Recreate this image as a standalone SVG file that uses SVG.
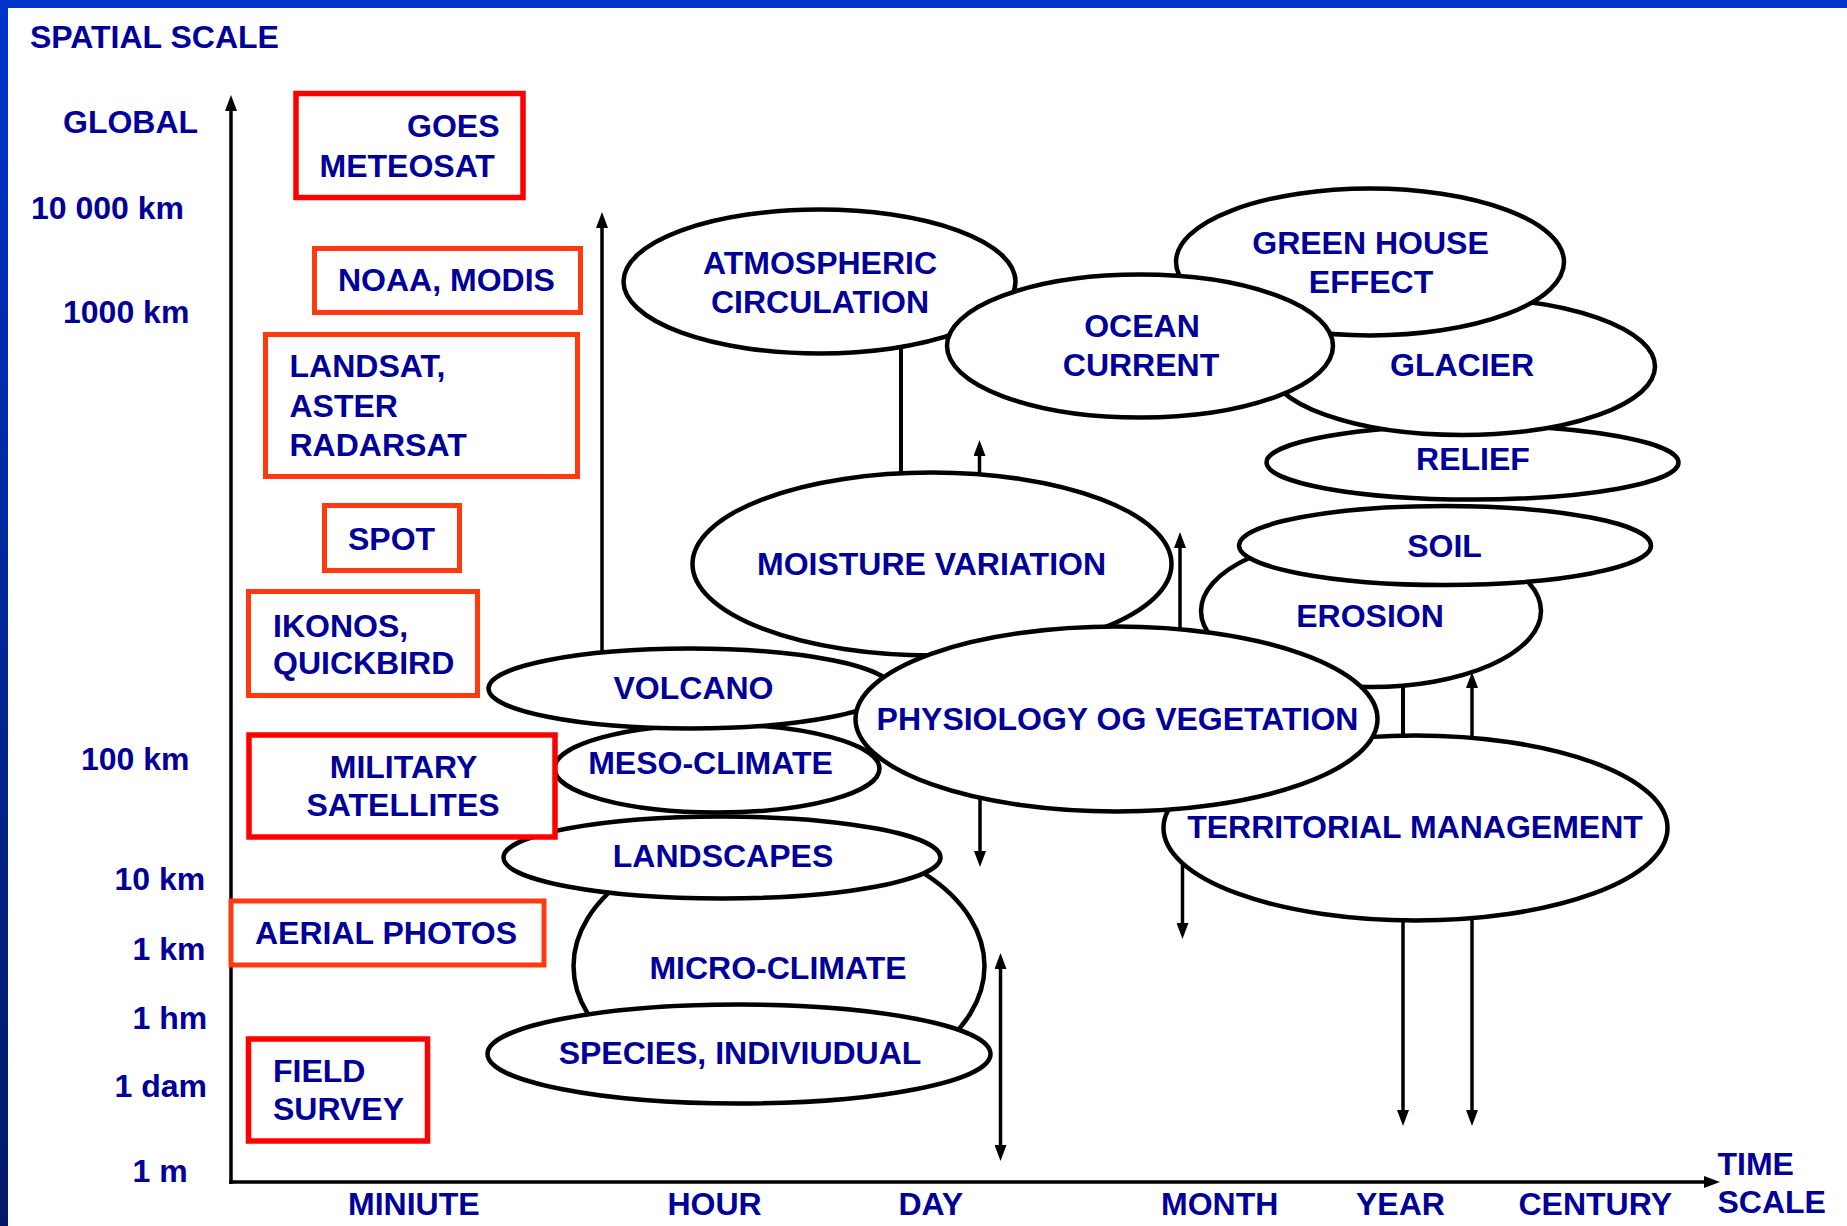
<svg xmlns="http://www.w3.org/2000/svg" width="1847" height="1226" viewBox="0 0 1847 1226">
<defs>
<linearGradient id="lb" x1="0" y1="0" x2="0" y2="1">
<stop offset="0" stop-color="#0033cc"/>
<stop offset="1" stop-color="#001a66"/>
</linearGradient>
<marker id="ah" markerUnits="userSpaceOnUse" viewBox="0 0 16 12" markerWidth="16" markerHeight="12" refX="4" refY="6" orient="auto-start-reverse">
<path d="M0,0 L16,6 L0,12 z" fill="#000"/>
</marker>
<style>
.t{font-family:"Liberation Sans",Arial,sans-serif;font-weight:bold;font-size:32px;fill:#000099}
.c{text-anchor:middle}
.e{fill:#fff;stroke:#000;stroke-width:4.5}
.br{fill:#fff;stroke:#ff0000;stroke-width:5.5}
.bo{fill:#fff;stroke:#ff3a10;stroke-width:5}
.ln{stroke:#000;stroke-width:4;fill:none}
.la{stroke:#000;stroke-width:3.5;fill:none;marker-end:url(#ah)}
.ld{stroke:#000;stroke-width:3.5;fill:none;marker-start:url(#ah);marker-end:url(#ah)}
</style>
</defs>
<rect x="0" y="0" width="1847" height="1226" fill="#fff"/>
<rect x="0" y="0" width="1847" height="8" fill="#0033cc"/>
<rect x="0" y="0" width="8" height="1226" fill="url(#lb)"/>

<g id="connectors">
<line class="la" x1="231" y1="1184" x2="231" y2="107"/>
<line class="la" x1="229" y1="1182" x2="1708" y2="1182"/>
<line class="la" x1="602" y1="660" x2="602" y2="224"/>
<line class="ln" x1="901" y1="340" x2="901" y2="480"/>
<line class="la" x1="979.5" y1="480" x2="979.5" y2="452"/>
<line class="la" x1="1180" y1="640" x2="1180" y2="544"/>
<line class="la" x1="980" y1="790" x2="980" y2="855"/>
<line class="ld" x1="1000.5" y1="965" x2="1000.5" y2="1149"/>
<line class="ln" x1="1403" y1="680" x2="1403" y2="745"/>
<line class="la" x1="1472" y1="745" x2="1472" y2="684"/>
<line class="la" x1="1403" y1="915" x2="1403" y2="1114"/>
<line class="la" x1="1472" y1="915" x2="1472" y2="1114"/>
<line class="la" x1="1182.5" y1="855" x2="1182.5" y2="927"/>
</g>

<g id="atmospheric"><ellipse class="e" cx="819.5" cy="281.5" rx="196" ry="72"/><text class="t c" x="820" y="274">ATMOSPHERIC</text><text class="t c" x="820" y="313">CIRCULATION</text></g>
<g id="relief"><ellipse class="e" cx="1472.5" cy="462.5" rx="206" ry="37"/><text class="t c" x="1473" y="470">RELIEF</text></g>
<g id="glacier"><ellipse class="e" cx="1462" cy="366.5" rx="193" ry="68.5"/><text class="t c" x="1462" y="376">GLACIER</text></g>
<g id="greenhouse"><ellipse class="e" cx="1370" cy="262" rx="194" ry="73.5"/><text class="t c" x="1370.5" y="254">GREEN HOUSE</text><text class="t c" x="1371" y="293">EFFECT</text></g>
<g id="ocean"><ellipse class="e" cx="1140" cy="346" rx="193" ry="71.5"/><text class="t c" x="1142" y="337">OCEAN</text><text class="t c" x="1141" y="376">CURRENT</text></g>
<g id="erosion"><ellipse class="e" cx="1371" cy="611" rx="170" ry="76"/><text class="t c" x="1370" y="627">EROSION</text></g>
<g id="soil"><ellipse class="e" cx="1445" cy="545.5" rx="206" ry="39.5"/><text class="t c" x="1444.5" y="557">SOIL</text></g>
<g id="territorial"><ellipse class="e" cx="1415.5" cy="828" rx="252" ry="92.5"/><text class="t c" x="1415" y="838">TERRITORIAL MANAGEMENT</text></g>
<g id="moisture"><ellipse class="e" cx="932" cy="564" rx="239.5" ry="91.5"/><text class="t c" x="931.5" y="575">MOISTURE VARIATION</text></g>
<g id="meso"><ellipse class="e" cx="717" cy="768.5" rx="162.5" ry="44"/><text class="t c" x="710.5" y="774">MESO-CLIMATE</text></g>
<g id="volcano"><ellipse class="e" cx="690" cy="688.5" rx="201.5" ry="40"/><text class="t c" x="693.5" y="699">VOLCANO</text></g>
<g id="physiology"><ellipse class="e" cx="1116.5" cy="719" rx="261" ry="92.5"/><text class="t c" x="1117.5" y="730">PHYSIOLOGY OG VEGETATION</text></g>
<g id="micro"><ellipse class="e" cx="779" cy="966" rx="205.5" ry="130.5"/><text class="t c" x="778" y="979">MICRO-CLIMATE</text></g>
<g id="landscapes"><ellipse class="e" cx="722" cy="857.5" rx="218.5" ry="41"/><text class="t c" x="723" y="867">LANDSCAPES</text></g>
<g id="species"><ellipse class="e" cx="739" cy="1054" rx="251.5" ry="49.5"/><text class="t c" x="740" y="1064">SPECIES, INDIVIUDUAL</text></g>

<g id="goes"><rect class="br" x="296" y="93.5" width="227" height="104"/><text class="t" x="407" y="137">GOES</text><text class="t" x="319.5" y="177">METEOSAT</text></g>
<g id="noaa"><rect class="bo" x="314.5" y="248.5" width="266" height="64"/><text class="t" x="338" y="291">NOAA, MODIS</text></g>
<g id="landsat"><rect class="bo" x="265.5" y="334.5" width="312" height="142"/><text class="t" x="289.5" y="377">LANDSAT,</text><text class="t" x="289.5" y="417">ASTER</text><text class="t" x="289.5" y="456">RADARSAT</text></g>
<g id="spot"><rect class="bo" x="324.5" y="505.5" width="135" height="65"/><text class="t" x="348" y="550">SPOT</text></g>
<g id="ikonos"><rect class="bo" x="248.5" y="591.5" width="229" height="104"/><text class="t" x="273" y="637">IKONOS,</text><text class="t" x="273" y="674">QUICKBIRD</text></g>
<g id="military"><rect class="br" x="249" y="735" width="306" height="102"/><text class="t c" x="403.5" y="778">MILITARY</text><text class="t c" x="403" y="816">SATELLITES</text></g>
<g id="aerial"><rect class="bo" x="231" y="901" width="313" height="64"/><text class="t" x="255" y="944">AERIAL PHOTOS</text></g>
<g id="field"><rect class="br" x="248.5" y="1039" width="179" height="102"/><text class="t" x="273" y="1082">FIELD</text><text class="t" x="273" y="1120">SURVEY</text></g>

<g id="spatial-axis-labels">
<text class="t" x="30" y="48">SPATIAL SCALE</text>
<text class="t" x="63" y="133">GLOBAL</text>
<text class="t" x="31" y="219">10 000 km</text>
<text class="t" x="63" y="323">1000 km</text>
<text class="t" x="81" y="770">100 km</text>
<text class="t" x="114.5" y="890">10 km</text>
<text class="t" x="132.5" y="959.5">1 km</text>
<text class="t" x="132.5" y="1028.5">1 hm</text>
<text class="t" x="114.5" y="1096.5">1 dam</text>
<text class="t" x="132.5" y="1181.5">1 m</text>
</g>
<g id="time-axis-labels">
<text class="t" x="348" y="1215">MINIUTE</text>
<text class="t" x="667.5" y="1215">HOUR</text>
<text class="t" x="898.5" y="1215">DAY</text>
<text class="t" x="1161" y="1215">MONTH</text>
<text class="t" x="1356" y="1215">YEAR</text>
<text class="t" x="1518.5" y="1215">CENTURY</text>
<text class="t" x="1717.5" y="1175">TIME</text>
<text class="t" x="1717.5" y="1213">SCALE</text>
</g>
</svg>
